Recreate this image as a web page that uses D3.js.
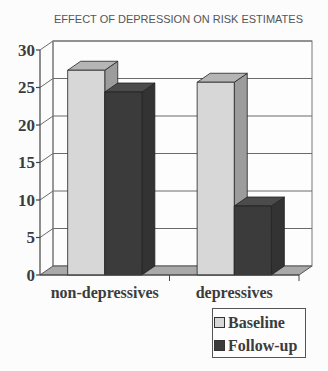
<!DOCTYPE html>
<html>
<head>
<meta charset="utf-8">
<script src="https://cdn.jsdelivr.net/npm/d3@7"></script>
<style>
html,body{margin:0;padding:0;background:#fcfcfc;}
svg{display:block;}
</style>
</head>
<body>
<svg id="chart" width="328" height="371"></svg>
<script>
const title = "EFFECT OF DEPRESSION ON RISK ESTIMATES";
const categories = ["non-depressives", "depressives"];
const seriesNames = ["Baseline", "Follow-up"];
const baseline = [27.3, 25.7];
const followUp = [24.4, 9.2];
const yTicks = [0, 5, 10, 15, 20, 25, 30];

(function () {
const seriesValues = [baseline, followUp];
const faceColors = [
  {front: "#d7d7d7", top: "#b5b5b5", side: "#9c9c9c"},
  {front: "#3b3b3b", top: "#4b4b4b", side: "#333333"}
];

const svg = d3.select("#chart");
const pLeft = 40, pRight = 299, pTop = 50, pBottom = 275;
const dx = 13, dy = -9;
const ink = "#3c3c3c";

const y = d3.scaleLinear().domain([0, 30]).range([pBottom, pTop]);
const x0 = d3.scaleBand().domain(categories).range([pLeft, pRight])
  .paddingInner(0.427).paddingOuter(0.2135);
const x1 = d3.scaleBand().domain(seriesNames).range([0, x0.bandwidth()]);

// title
svg.append("text").attr("x", 178.5).attr("y", 23).attr("text-anchor", "middle")
  .attr("font-family", "Liberation Sans, Arial, sans-serif").attr("font-size", 11)
  .attr("fill", "#555").text(title);

// back wall
svg.append("rect").attr("x", pLeft + dx).attr("y", pTop + dy)
  .attr("width", pRight - pLeft).attr("height", pBottom - pTop)
  .attr("fill", "#fdfdfd").attr("stroke", "#777").attr("stroke-width", 1);

// gridlines (side wall diagonal + back wall)
yTicks.filter(t => t > 0).forEach(t => {
  const yy = y(t);
  svg.append("path")
    .attr("d", `M${pLeft},${yy}L${pLeft + dx},${yy + dy}L${pRight + dx},${yy + dy}`)
    .attr("fill", "none").attr("stroke", "#6a6a6a").attr("stroke-width", 1);
});
svg.append("line").attr("x1", pLeft + dx).attr("x2", pLeft + dx)
  .attr("y1", pTop + dy).attr("y2", pBottom + dy).attr("stroke", "#777");

// floor
svg.append("path")
  .attr("d", `M${pLeft},${pBottom}L${pRight},${pBottom}L${pRight + dx},${pBottom + dy}L${pLeft + dx},${pBottom + dy}Z`)
  .attr("fill", "#a9a9a9").attr("stroke", "#555").attr("stroke-width", 1);

// bars
categories.forEach((c, ci) => {
  seriesNames.forEach((s, si) => {
    const v = seriesValues[si][ci];
    const bx = x0(c) + x1(s), bw = x1.bandwidth();
    const ty = y(v), by = y(0);
    const col = faceColors[si];
    const g = svg.append("g").attr("stroke", "#222").attr("stroke-width", 0.8).attr("stroke-linejoin", "round");
    g.append("path").attr("d", `M${bx + bw},${ty}L${bx + bw + dx},${ty + dy}L${bx + bw + dx},${by + dy}L${bx + bw},${by}Z`)
      .attr("fill", col.side);
    g.append("path").attr("d", `M${bx},${ty}L${bx + dx},${ty + dy}L${bx + bw + dx},${ty + dy}L${bx + bw},${ty}Z`)
      .attr("fill", col.top);
    g.append("rect").attr("x", bx).attr("y", ty).attr("width", bw).attr("height", by - ty)
      .attr("fill", col.front);
  });
});

// y axis
const yAxis = svg.append("g");
yAxis.append("line").attr("x1", pLeft).attr("x2", pLeft).attr("y1", pTop).attr("y2", pBottom)
  .attr("stroke", "#444").attr("stroke-width", 1.2);
yTicks.forEach(t => {
  yAxis.append("line").attr("x1", pLeft - 4).attr("x2", pLeft).attr("y1", y(t)).attr("y2", y(t))
    .attr("stroke", "#444").attr("stroke-width", 1.2);
  yAxis.append("text").attr("x", 35).attr("y", y(t)).attr("dy", "0.35em")
    .attr("text-anchor", "end").attr("font-family", "Liberation Serif, Times New Roman, serif")
    .attr("font-weight", "bold").attr("font-size", 17).attr("fill", ink).text(t);
});

// x axis
svg.append("line").attr("x1", pLeft).attr("x2", pRight).attr("y1", pBottom).attr("y2", pBottom)
  .attr("stroke", "#444").attr("stroke-width", 1);
[pLeft + x0.step(), pRight].forEach(xx => {
  svg.append("line").attr("x1", xx).attr("x2", xx).attr("y1", pBottom).attr("y2", pBottom + 6)
    .attr("stroke", "#444").attr("stroke-width", 1);
});
categories.forEach(c => {
  svg.append("text").attr("x", x0(c) + x0.bandwidth() / 2).attr("y", 298)
    .attr("text-anchor", "middle").attr("font-family", "Liberation Serif, Times New Roman, serif")
    .attr("font-weight", "bold").attr("font-size", 16).attr("fill", ink).text(c);
});

// legend
const lg = svg.append("g");
lg.append("rect").attr("x", 212.5).attr("y", 308.5).attr("width", 93).attr("height", 49)
  .attr("fill", "#fdfdfd").attr("stroke", "#555").attr("stroke-width", 1);
seriesNames.forEach((s, i) => {
  const yy = 317 + i * 23;
  lg.append("rect").attr("x", 214.5).attr("y", yy + 0.5).attr("width", 10).attr("height", 10)
    .attr("fill", faceColors[i].front).attr("stroke", "#333").attr("stroke-width", 1);
  lg.append("text").attr("x", 228).attr("y", yy + 10.5)
    .attr("font-family", "Liberation Serif, Times New Roman, serif")
    .attr("font-weight", "bold").attr("font-size", 16).attr("fill", ink).text(s);
});
})();
</script>
</body>
</html>
